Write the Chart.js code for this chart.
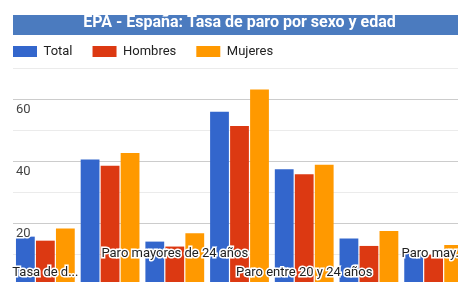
<!DOCTYPE html>
<html>
<head>
<meta charset="utf-8">
<script src="https://cdn.jsdelivr.net/npm/chart.js@4"></script>
<style>
  html, body { margin: 0; padding: 0; overflow: hidden; background: #fff; }
  canvas { display: block; }
</style>
</head>
<body>
<canvas id="chart" width="466" height="285"></canvas>
<script>
const ctx = document.getElementById("chart");

const titleText = "EPA - España: Tasa de paro por sexo y edad";
const categories = [
  "Tasa de desempleo",
  "Paro menores de 25 años",
  "Paro mayores de 24 años",
  "Paro entre 16 y 19 años",
  "Paro entre 20 y 24 años",
  "Paro entre 25 y 54 años",
  "Paro mayores de 55 años",
];
// labels as they show on the axis (every other one, staggered in two rows)
const tickLabels = [
  ["", "Tasa de d..."],
  "",
  ["Paro mayores de 24 años"],
  "",
  ["", "Paro entre 20 y 24 años"],
  "",
  ["Paro may..."],
];
const total = [15.6, 40.5, 14.0, 55.9, 37.3, 15.0, 10.4];
const hombres = [14.3, 38.5, 12.4, 51.3, 35.7, 12.6, 9.8];
const mujeres = [18.2, 42.6, 16.7, 63.1, 38.8, 17.4, 12.9];

Chart.defaults.font.family = "Roboto";

// blue band behind the title, title centred on the plot, legend starting at plot left
const titleBand = {
  id: "titleBand",
  afterLayout(chart) {
    const area = chart.chartArea;
    chart.titleBlock.left = area.left;
    chart.titleBlock.right = area.right;
    chart.legend.left = area.left - chart.options.plugins.legend.labels.padding;
  },
  beforeDraw(chart) {
    const c = chart.ctx;
    c.save();
    c.fillStyle = "#4b7bbf";
    c.fillRect(chart.chartArea.left, 15, chart.width, 20);
    c.restore();
  },
};

new Chart(ctx, {
  type: "bar",
  data: {
    labels: categories,
    datasets: [
      { label: "Total", data: total, backgroundColor: "#3366cc" },
      { label: "Hombres", data: hombres, backgroundColor: "#dc3912" },
      { label: "Mujeres", data: mujeres, backgroundColor: "#ff9900" },
    ],
  },
  plugins: [titleBand],
  options: {
    responsive: false,
    animation: false,
    categoryPercentage: 0.927,
    barPercentage: 0.94,
    borderWidth: 0,
    layout: { padding: 0 },
    scales: {
      x: {
        afterFit: (s) => {
          s.height = 0;
          s.paddingLeft = 0;
          s.paddingRight = 0;
        },
        grid: { display: false, drawTicks: false },
        border: { display: false },
        ticks: {
          autoSkip: false,
          maxRotation: 0,
          minRotation: 0,
          mirror: true,
          padding: 21.5,
          z: 1,
          color: "#222",
          font: { size: 13, lineHeight: "19px" },
          textStrokeColor: "#fff",
          textStrokeWidth: 3,
          callback: (value, index) => tickLabels[index],
        },
      },
      y: {
        min: 0,
        max: 70,
        afterFit: (s) => {
          s.width = 13;
          s.paddingTop = 0;
          s.paddingBottom = 0;
        },
        border: { display: false },
        grid: {
          drawTicks: false,
          color: (c) => (c.tick && c.tick.value % 20 === 0 && c.tick.value > 0 ? "#cccccc" : "#ebebeb"),
        },
        ticks: {
          stepSize: 10,
          mirror: true,
          padding: 3,
          labelOffset: 11,
          z: 1,
          color: "#444",
          font: { size: 13 },
          textStrokeColor: "#fff",
          textStrokeWidth: 3,
          callback: (v) => (v % 20 === 0 && v > 0 ? v : ""),
        },
      },
    },
    plugins: {
      title: {
        display: true,
        text: titleText,
        color: "#fff",
        font: { size: 16, weight: "bold", lineHeight: 1.25 },
        padding: { top: 13, bottom: -8 },
      },
      legend: {
        display: true,
        align: "start",
        labels: {
          boxWidth: 24,
          boxHeight: 11,
          padding: 20,
          color: "#222",
          font: { size: 13 },
        },
      },
      tooltip: { enabled: false },
    },
  },
});
</script>
</body>
</html>
